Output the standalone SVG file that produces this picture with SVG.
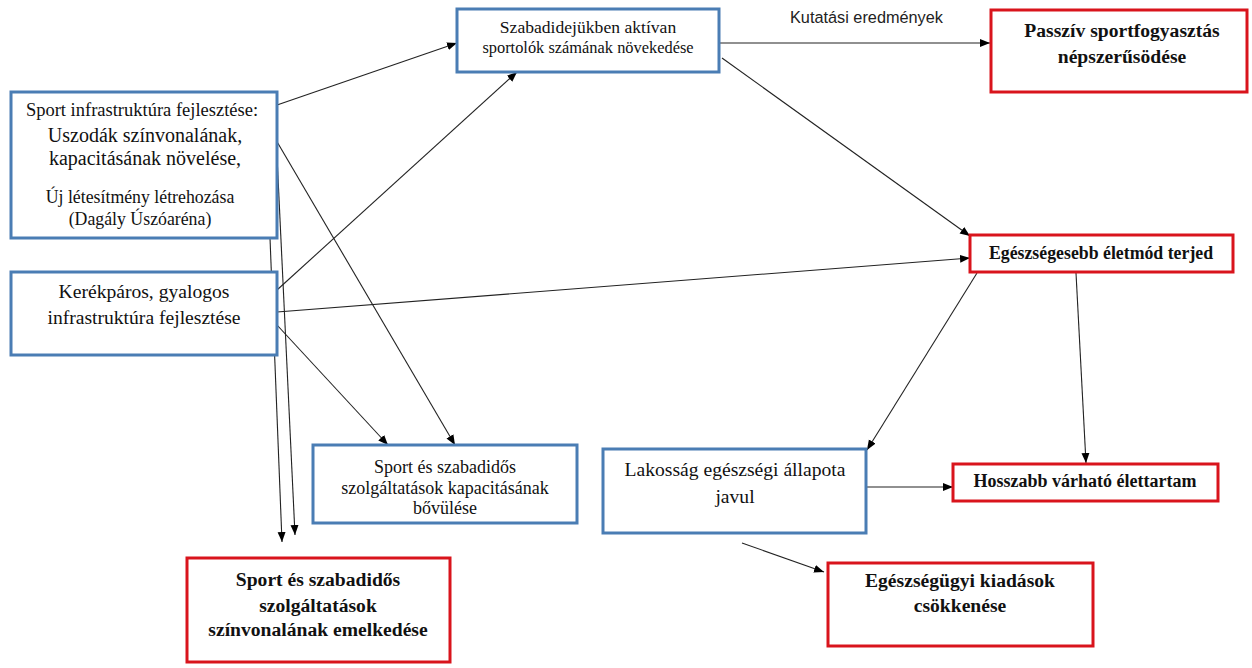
<svg xmlns="http://www.w3.org/2000/svg" width="1252" height="668" viewBox="0 0 1252 668">
<style>
.blue{fill:#fff;stroke:#4a7db4;stroke-width:3}
.red{fill:#fff;stroke:#d9141c;stroke-width:3}
.t{font-family:"Liberation Serif",serif;fill:#111;text-anchor:middle}
.b{font-weight:bold}
.c{stroke:#222;stroke-width:1.1;fill:none;marker-end:url(#ah)}
.lbl{font-family:"Liberation Sans",sans-serif;font-size:16.3px;fill:#222}
</style>
<defs>
<marker id="ah" viewBox="0 0 10 10" refX="10" refY="5" markerWidth="10" markerHeight="10" markerUnits="userSpaceOnUse" orient="auto">
<path d="M0,1 L10,5 L0,9 z" fill="#000"/>
</marker>
</defs>
<rect width="1252" height="668" fill="#fff"/>
<g id="connectors">
<line class="c" x1="277" y1="105" x2="457" y2="43"/>
<line class="c" x1="277" y1="290" x2="517" y2="72"/>
<line class="c" x1="276" y1="140" x2="455" y2="445"/>
<line class="c" x1="277" y1="325" x2="388" y2="445"/>
<line class="c" x1="277" y1="312" x2="970" y2="258"/>
<line class="c" x1="270" y1="238" x2="282" y2="542"/>
<line class="c" x1="276" y1="135" x2="295" y2="535"/>
<line class="c" x1="719" y1="43" x2="990" y2="43"/>
<line class="c" x1="722" y1="58" x2="970" y2="236"/>
<line class="c" x1="977" y1="273" x2="867" y2="450"/>
<line class="c" x1="1076" y1="273" x2="1086" y2="463"/>
<line class="c" x1="866" y1="487" x2="953" y2="487"/>
<line class="c" x1="742" y1="543" x2="824" y2="572"/>
<text class="lbl" x="790" y="23">Kutatási eredmények</text>
</g>
<g id="n-sport-infra">
<rect class="blue" x="11" y="92" width="266" height="146"/>
<text class="t" x="142" y="116" font-size="18.5">Sport infrastruktúra fejlesztése:</text>
<text class="t" x="145" y="142" font-size="20">Uszodák színvonalának,</text>
<text class="t" x="145" y="165" font-size="20">kapacitásának növelése,</text>
<text class="t" x="140" y="203" font-size="17.8">Új létesítmény létrehozása</text>
<text class="t" x="140" y="225" font-size="17.8">(Dagály Úszóaréna)</text>
</g>
<g id="n-kerekpar">
<rect class="blue" x="11" y="272" width="266" height="83"/>
<text class="t" x="144" y="298" font-size="19.6">Kerékpáros, gyalogos</text>
<text class="t" x="144" y="324" font-size="19.6">infrastruktúra fejlesztése</text>
</g>
<g id="n-szabadido">
<rect class="blue" x="457" y="9" width="262" height="63"/>
<text class="t" x="588" y="33" font-size="17.6">Szabadidejükben aktívan</text>
<text class="t" x="588" y="53" font-size="16.4">sportolók számának növekedése</text>
</g>
<g id="n-passziv">
<rect class="red" x="991" y="10" width="256" height="82"/>
<text class="t b" x="1122" y="37" font-size="19.6">Passzív sportfogyasztás</text>
<text class="t b" x="1122" y="63" font-size="19.6">népszerűsödése</text>
</g>
<g id="n-eletmod">
<rect class="red" x="970" y="235" width="263" height="37"/>
<text class="t b" x="1101" y="259" font-size="17.8">Egészségesebb életmód terjed</text>
</g>
<g id="n-kapacitas">
<rect class="blue" x="313" y="445" width="264" height="78"/>
<text class="t" x="445" y="473" font-size="18">Sport és szabadidős</text>
<text class="t" x="445" y="494" font-size="18">szolgáltatások kapacitásának</text>
<text class="t" x="445" y="514" font-size="18">bővülése</text>
</g>
<g id="n-lakossag">
<rect class="blue" x="603" y="449" width="263" height="84"/>
<text class="t" x="735" y="476" font-size="19.6">Lakosság egészségi állapota</text>
<text class="t" x="735" y="503" font-size="19.6">javul</text>
</g>
<g id="n-hosszabb">
<rect class="red" x="953" y="464" width="265" height="37"/>
<text class="t b" x="1085" y="487" font-size="18">Hosszabb várható élettartam</text>
</g>
<g id="n-szinvonal">
<rect class="red" x="187" y="558" width="263" height="104"/>
<text class="t b" x="318" y="586" font-size="19.6">Sport és szabadidős</text>
<text class="t b" x="318" y="612" font-size="19.6">szolgáltatások</text>
<text class="t b" x="318" y="636" font-size="19.6">színvonalának emelkedése</text>
</g>
<g id="n-kiadasok">
<rect class="red" x="828" y="563" width="265" height="83"/>
<text class="t b" x="960" y="587" font-size="19.6">Egészségügyi kiadások</text>
<text class="t b" x="960" y="612" font-size="19.6">csökkenése</text>
</g>
</svg>
